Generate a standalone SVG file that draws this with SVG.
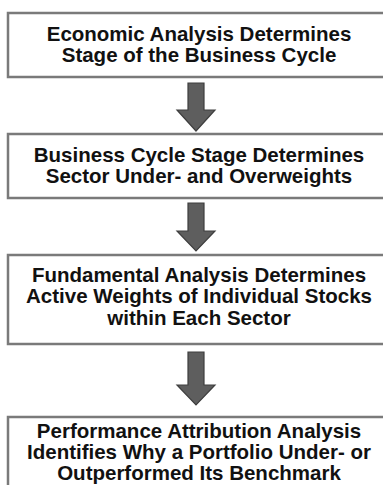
<svg xmlns="http://www.w3.org/2000/svg" width="383" height="485" viewBox="0 0 383 485">
  <defs>
    <style>
      .box { fill: #ffffff; stroke: #7a7a7a; stroke-width: 2.5; }
      .lbl { font-family: "Liberation Sans", Arial, sans-serif; font-weight: bold; font-size: 20.5px; fill: #111111; text-anchor: middle; }
      .arrow { fill: #5e5e5e; stroke: #3e3e3e; stroke-width: 1.2; stroke-linejoin: miter; }
    </style>
  </defs>
  <rect width="383" height="485" fill="#ffffff"/>

  <g id="connectors">
    <path class="arrow" d="M188,83 H204 V110 H215 L196,131 L177,110 H188 Z"/>
    <path class="arrow" d="M188,203 H204 V231 H215 L196,251 L177,231 H188 Z"/>
    <path class="arrow" d="M188,352 H204 V385 H215 L196,405 L177,385 H188 Z"/>
  </g>

  <g id="node1">
    <rect class="box" x="8" y="13" width="386" height="64"/>
    <text class="lbl" x="199" y="41">Economic Analysis Determines</text>
    <text class="lbl" x="199" y="62">Stage of the Business Cycle</text>
  </g>

  <g id="node2">
    <rect class="box" x="8" y="134" width="386" height="64"/>
    <text class="lbl" x="199" y="162">Business Cycle Stage Determines</text>
    <text class="lbl" x="199" y="183">Sector Under- and Overweights</text>
  </g>

  <g id="node3">
    <rect class="box" x="8" y="255" width="386" height="89"/>
    <text class="lbl" x="199" y="282">Fundamental Analysis Determines</text>
    <text class="lbl" x="199" y="303">Active Weights of Individual Stocks</text>
    <text class="lbl" x="199" y="325">within Each Sector</text>
  </g>

  <g id="node4">
    <rect class="box" x="8" y="417" width="386" height="90"/>
    <text class="lbl" x="199" y="438">Performance Attribution Analysis</text>
    <text class="lbl" x="199" y="459">Identifies Why a Portfolio Under- or</text>
    <text class="lbl" x="199" y="480">Outperformed Its Benchmark</text>
  </g>
</svg>
